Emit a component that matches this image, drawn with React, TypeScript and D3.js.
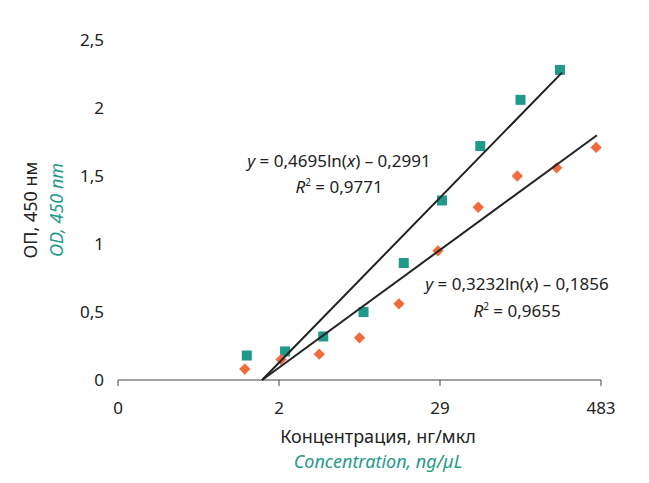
import React from 'react';
import * as d3 from 'd3';

// x positions are dilution steps on a log2 axis
const xTickSteps = [0, 4, 8, 12];
const xTickLabels = ['0', '2', '29', '483'];
const yTicks = [0, 0.5, 1, 1.5, 2, 2.5];

const greenSteps = [3.2, 4.15, 5.1, 6.1, 7.1, 8.05, 9.0, 10.0, 10.98];
const greenValues = [0.18, 0.21, 0.32, 0.5, 0.86, 1.32, 1.72, 2.06, 2.28];
const orangeSteps = [3.15, 4.05, 5.0, 6.0, 6.98, 7.95, 8.95, 9.92, 10.9, 11.88];
const orangeValues = [0.08, 0.15, 0.19, 0.31, 0.56, 0.95, 1.27, 1.5, 1.56, 1.71];

const greenTrend = [[3.58, 0], [11.03, 2.26]];
const orangeTrend = [[3.58, 0], [11.9, 1.8]];

const GREEN = '#1f9a8a';
const ORANGE = '#f26b3a';
const FONT = '"Noto Sans", sans-serif';

export default function App() {
  const x = d3.scaleLinear().domain([0, 12]).range([118, 601]);
  const y = d3.scaleLinear().domain([0, 2.5]).range([380, 40]);
  const line = d3.line<number[]>().x(d => x(d[0])).y(d => y(d[1]));

  return (
    <svg width={649} height={483} style={{ position: 'absolute', left: 0, top: 0 }} fontFamily={FONT}>
      <rect width={649} height={483} fill="#fff" />
      {yTicks.map(t => (
        <text key={t} x={104} y={y(t)} dy="0.35em" textAnchor="end" fontSize={17} fill="#222">
          {String(t).replace('.', ',')}
        </text>
      ))}
      <line x1={x(0)} x2={x(12)} y1={380} y2={380} stroke="#444" strokeWidth={1} />
      {xTickSteps.map((s, i) => (
        <g key={s}>
          <line x1={x(s)} x2={x(s)} y1={380} y2={386} stroke="#444" />
          <text x={x(s)} y={414} textAnchor="middle" fontSize={17} fill="#222">{xTickLabels[i]}</text>
        </g>
      ))}
      {greenSteps.map((s, i) => (
        <rect key={i} x={x(s) - 5} y={y(greenValues[i]) - 5} width={10} height={10} fill={GREEN} />
      ))}
      {orangeSteps.map((s, i) => (
        <rect key={i} x={-4} y={-4} width={8} height={8} fill={ORANGE}
          transform={`translate(${x(s)},${y(orangeValues[i])}) rotate(45)`} />
      ))}
      <path d={line(greenTrend)!} stroke="#222" strokeWidth={2} fill="none" />
      <path d={line(orangeTrend)!} stroke="#222" strokeWidth={2} fill="none" />
      <text x={339} y={167} textAnchor="middle" fontSize={17} fill="#222">
        <tspan fontStyle="italic">y</tspan> = 0,4695ln(<tspan fontStyle="italic">x</tspan>) – 0,2991
      </text>
      <text x={339} y={193} textAnchor="middle" fontSize={17} fill="#222">
        <tspan fontStyle="italic">R</tspan><tspan fontSize={10} dy={-7}>2</tspan><tspan dy={7}> = 0,9771</tspan>
      </text>
      <text x={517} y={290} textAnchor="middle" fontSize={17} fill="#222">
        <tspan fontStyle="italic">y</tspan> = 0,3232ln(<tspan fontStyle="italic">x</tspan>) – 0,1856
      </text>
      <text x={517} y={317} textAnchor="middle" fontSize={17} fill="#222">
        <tspan fontStyle="italic">R</tspan><tspan fontSize={10} dy={-7}>2</tspan><tspan dy={7}> = 0,9655</tspan>
      </text>
      <text x={378} y={443} textAnchor="middle" fontSize={18} fill="#222">Концентрация, нг/мкл</text>
      <text x={378} y={468} textAnchor="middle" fontSize={18} fontStyle="italic" fill={GREEN}>Concentration, ng/µL</text>
      <text transform="translate(37,210) rotate(-90)" textAnchor="middle" fontSize={18} fill="#222">ОП, 450 нм</text>
      <text transform="translate(63,210) rotate(-90)" textAnchor="middle" fontSize={18} fontStyle="italic" fill={GREEN}>OD, 450 nm</text>
    </svg>
  );
}
